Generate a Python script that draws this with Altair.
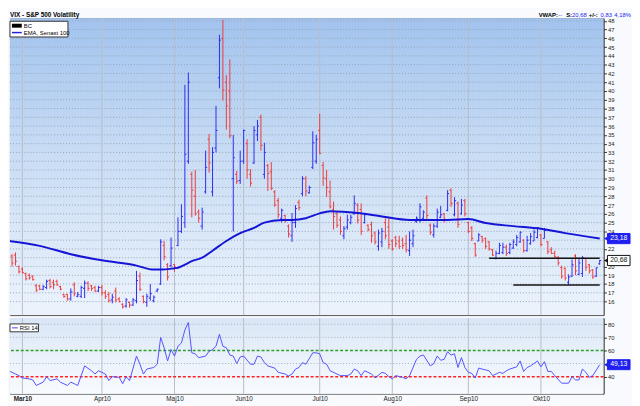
import altair as alt
import pandas as pd

# ---------------- data ----------------
first_day = -3  # trading-day index, 0 = 1 Mar 2010
opens = [21.2, 21.3, 20.0, 19.7, 19.2, 19.0, 18.9, 17.8, 17.8, 17.4,
         17.6, 18.4, 18.2, 18.3, 17.7, 16.8, 16.8, 16.3, 17.9, 16.6,
         16.6, 17.5, 18.1, 17.8, 17.6, 17.2, 17.6, 17.0, 16.8, 16.2,
         17.2, 16.3, 15.7, 15.5, 15.9, 15.6, 16.1, 18.9, 16.6, 15.9,
         16.4, 16.1, 17.2, 18.0, 22.4, 20.2, 20.1, 20.2, 22.4, 24.0,
         25.0, 32.0, 30.5, 28.0, 26.2, 24.6, 28.5, 34.5, 28.5, 33.5,
         41.5, 46.0, 41.0, 40.0, 30.0, 30.5, 29.8, 32.0, 34.0, 30.5,
         31.8, 35.0, 37.0, 30.5, 31.5, 30.8, 28.5, 27.5, 25.5, 25.8,
         24.6, 23.5, 25.0, 27.3, 28.3, 30.0, 28.4, 31.3, 32.0, 35.5,
         31.5, 30.0, 28.5, 26.5, 26.0, 25.3, 23.5, 24.5, 25.0, 26.0,
         27.0, 26.5, 25.0, 24.7, 24.8, 23.8, 22.3, 22.8, 25.0, 24.5,
         22.9, 23.3, 22.9, 23.0, 22.6, 21.8, 22.6, 25.1, 25.3, 25.5,
         27.8, 24.7, 23.6, 24.6, 25.6, 26.0, 26.4, 28.7, 25.9, 27.2,
         26.0, 27.5, 25.0, 24.4, 22.6, 22.9, 23.4, 23.2, 22.8, 21.9,
         20.9, 21.5, 21.6, 22.2, 21.6, 22.1, 22.5, 22.8, 23.0, 21.8,
         22.6, 22.9, 23.3, 23.6, 23.2, 22.8, 21.9, 21.5, 21.0, 19.9,
         19.8, 18.2, 18.9, 21.2, 19.1, 19.2, 20.9, 20.2, 19.6, 18.9,
         20.3]
highs = [21.4, 21.6, 20.1, 19.9, 19.3, 19.2, 19.0, 18.0, 17.9, 17.9,
         18.5, 18.6, 18.5, 18.5, 17.8, 16.9, 16.9, 17.5, 18.2, 17.1,
         17.8, 18.4, 18.3, 17.9, 17.8, 17.8, 17.9, 17.3, 17.1, 16.9,
         17.6, 16.5, 15.8, 16.4, 16.0, 16.4, 19.5, 19.3, 16.7, 16.9,
         18.0, 16.7, 17.5, 23.1, 22.9, 20.4, 23.3, 20.3, 25.6, 27.1,
         40.7, 42.1, 30.8, 31.0, 26.5, 26.7, 33.2, 35.1, 33.6, 38.3,
         46.4, 48.1, 41.8, 43.6, 35.0, 30.9, 33.2, 35.6, 34.5, 31.1,
         36.0, 36.7, 37.3, 34.1, 31.7, 31.9, 28.7, 27.8, 26.6, 25.9,
         24.8, 26.1, 27.0, 27.6, 30.3, 30.3, 29.2, 35.4, 35.0, 37.4,
         31.9, 31.0, 29.8, 27.4, 26.3, 25.7, 24.6, 25.9, 25.9, 28.1,
         27.2, 27.2, 26.1, 24.8, 25.1, 24.0, 24.2, 24.4, 25.5, 25.5,
         23.1, 23.5, 23.5, 23.3, 23.6, 24.0, 24.2, 25.7, 27.2, 26.4,
         28.1, 24.9, 24.9, 26.6, 26.9, 26.1, 28.7, 28.9, 27.9, 27.4,
         27.7, 27.7, 25.1, 24.6, 22.7, 23.8, 23.5, 23.3, 22.9, 22.0,
         21.8, 22.7, 22.7, 22.5, 22.7, 23.1, 23.6, 24.0, 23.1, 23.5,
         23.8, 24.2, 24.5, 23.7, 24.4, 22.9, 22.2, 21.8, 21.2, 20.1,
         19.9, 19.1, 20.8, 21.4, 21.0, 21.2, 21.0, 20.3, 19.7, 19.9,
         20.75]
lows = [20.0, 20.1, 19.2, 19.2, 18.4, 18.5, 18.4, 17.1, 17.3, 17.3,
        17.4, 17.5, 17.4, 17.8, 17.3, 16.4, 16.1, 16.1, 16.6, 16.5,
        16.4, 16.4, 17.2, 17.2, 17.1, 17.1, 16.7, 16.3, 15.9, 15.8,
        15.9, 15.9, 15.2, 15.3, 15.3, 15.5, 15.8, 17.2, 15.8, 15.4,
        16.1, 15.9, 17.1, 17.9, 20.7, 18.4, 19.9, 19.4, 22.3, 23.8,
        24.4, 31.7, 25.6, 25.8, 25.0, 24.2, 28.3, 30.7, 28.0, 33.0,
        40.3, 38.9, 35.6, 34.6, 24.0, 29.4, 29.4, 31.7, 30.0, 29.1,
        31.7, 34.3, 33.2, 30.0, 28.6, 28.7, 26.8, 25.5, 25.0, 25.0,
        23.3, 22.8, 24.4, 26.4, 28.0, 28.0, 28.3, 31.1, 31.7, 32.8,
        29.2, 27.9, 26.6, 24.2, 24.4, 23.6, 23.1, 24.2, 24.8, 25.9,
        24.9, 23.6, 24.9, 24.0, 22.7, 22.5, 21.8, 22.2, 23.1, 22.0,
        21.8, 22.2, 22.0, 22.0, 21.6, 21.2, 22.2, 25.0, 25.0, 25.3,
        25.3, 23.6, 23.3, 24.4, 25.5, 25.0, 26.3, 26.8, 25.7, 24.4,
        25.9, 25.7, 23.8, 22.9, 21.1, 22.9, 22.7, 22.0, 21.8, 21.2,
        20.8, 21.4, 21.4, 21.2, 21.4, 22.0, 22.3, 22.7, 21.6, 21.7,
        22.5, 22.9, 23.2, 22.3, 23.2, 21.4, 21.4, 21.0, 20.1, 18.6,
        18.4, 17.9, 18.8, 19.0, 19.0, 18.8, 19.5, 19.2, 18.6, 18.8,
        20.2]
closes = [20.4, 20.6, 19.4, 19.3, 18.6, 18.7, 18.5, 17.3, 17.4, 17.7,
          18.3, 17.7, 17.9, 17.9, 17.4, 16.6, 16.3, 17.1, 16.9, 16.8,
          17.6, 18.1, 17.5, 17.5, 17.2, 17.6, 17.0, 16.6, 16.1, 16.5,
          16.2, 16.0, 15.4, 16.2, 15.6, 16.2, 18.4, 17.4, 16.0, 16.6,
          16.9, 16.5, 17.4, 22.8, 21.1, 18.8, 22.1, 19.9, 24.0, 25.7,
          32.8, 41.0, 28.7, 26.0, 25.5, 26.2, 31.3, 31.8, 33.0, 35.5,
          45.8, 40.1, 38.3, 34.9, 32.4, 29.7, 32.0, 35.5, 31.0, 29.5,
          35.5, 36.0, 33.8, 33.0, 30.6, 28.9, 27.0, 25.9, 26.4, 25.2,
          23.7, 25.0, 26.6, 26.7, 30.0, 28.6, 29.0, 34.1, 34.5, 32.9,
          30.1, 29.0, 26.8, 25.7, 24.7, 24.0, 24.3, 25.3, 25.6, 27.2,
          25.3, 24.0, 25.9, 24.2, 23.5, 22.8, 23.8, 24.0, 23.5, 22.5,
          22.0, 22.6, 22.3, 22.4, 21.9, 23.0, 23.5, 25.5, 26.8, 26.2,
          25.8, 23.9, 24.6, 26.2, 25.9, 25.4, 28.3, 27.2, 27.5, 24.8,
          27.0, 26.0, 24.0, 23.2, 21.3, 23.6, 23.0, 22.3, 22.0, 21.3,
          21.5, 22.4, 22.2, 21.5, 22.5, 22.8, 23.3, 23.9, 21.8, 23.0,
          23.4, 23.9, 24.4, 22.5, 24.1, 21.7, 21.5, 21.1, 20.4, 18.9,
          18.7, 18.8, 20.2, 19.5, 20.4, 21.0, 19.9, 19.5, 18.8, 19.85,
          20.68]

ema_day = [-4, 5, 14, 23, 33, 38, 40, 44, 45, 47, 49, 52, 55, 59, 63, 67, 70,
           75, 78, 82, 86, 89, 97, 104, 112, 123, 129, 134, 142, 150, 157, 167]
ema_val = [22.9, 22.35, 21.4, 20.7, 20.1, 19.65, 19.65, 19.8, 19.85, 20.2, 20.6,
           21.0, 21.8, 22.9, 23.8, 24.4, 25.0, 25.3, 25.3, 25.5, 26.05, 26.3,
           26.1, 25.7, 25.3, 25.3, 25.4, 24.95, 24.6, 24.3, 23.8, 23.18]

rsi_day = [-4, -2, -1, 0, 2, 3, 4, 6, 7, 8, 10, 11, 13, 14, 15, 16, 17, 18, 20,
           21, 22, 24, 25, 26, 28, 29, 30, 31, 33, 34, 35, 36, 38, 39, 40, 41,
           42, 43, 44, 45, 46, 47, 48, 49, 50, 51, 53, 54, 55, 56, 57, 58, 59,
           60, 61, 62, 63, 64, 66, 67, 68, 69, 70, 71, 73, 74, 76, 77, 78, 79,
           80, 81, 82, 84, 85, 86, 87, 88, 89, 91, 92, 94, 95, 96, 97, 98, 99,
           101, 102, 104, 105, 106, 107, 108, 110, 111, 112, 114, 115, 116, 118,
           119, 120, 121, 122, 123, 124, 125, 126, 127, 128, 129, 130, 131, 132,
           133, 135, 136, 137, 138, 139, 140, 141, 143, 144, 145, 146, 147, 149,
           150, 151, 152, 153, 154, 156, 158, 159, 160, 161, 162, 163, 164, 165,
           167]
rsi_val = [44.5, 42, 40.8, 39, 38.3, 37.5, 33.3, 35.8, 40, 37, 38.3, 35.8, 33.3,
           35.8, 34.6, 33.3, 40.8, 48.2, 44.5, 42, 44.5, 42, 37, 40, 39.5, 34.6,
           40, 37, 55.7, 49.5, 42, 45.8, 47, 49.5, 69.9, 62, 52, 60.7, 55.7,
           63.2, 65.7, 75.6, 81.3, 58.2, 57.4, 54.5, 55.7, 59.4, 60.7, 63.2,
           72.4, 63.2, 62, 56.5, 55.7, 50, 55, 55.7, 49.5, 49.5, 55.7, 55, 50.7,
           48.2, 46.5, 43.3, 42, 40.5, 42, 45.8, 47, 50.7, 49.5, 58.2, 58.2,
           57.4, 50.7, 49.5, 44.5, 42, 40.8, 40.8, 42, 45.8, 44.5, 40.8, 44.5,
           42, 39, 43.3, 42.5, 40, 38.3, 40.8, 39.5, 38.3, 40.8, 53.2, 55.7,
           56.5, 48.2, 50, 55.7, 52.5, 53.2, 59, 56.5, 57.4, 47, 54.5, 47, 43.3,
           42.5, 39, 46.5, 45.8, 44.5, 40.8, 42, 43.3, 42.5, 44.5, 45.8, 47.5,
           52, 44, 47, 48.2, 52, 47.5, 51.5, 44, 44, 40.8, 35, 35, 40, 37.5,
           37.5, 45.8, 43.3, 39.5, 40.8, 49.13]

month_idx = [0, 23, 44, 64, 86, 107, 129, 150]
month_lab = ["Mar10", "Apr10", "Maj10", "Jun10", "Jul10", "Aug10", "Sep10", "Okt10"]
price_grid = list(range(16, 49))
price_labels = [p for p in range(16, 49) if p not in (21, 23)]  # 21, 23 hidden under boxes
rsi_labels = [40, 60, 70, 80]                                   # 50 hidden under box
rsi_grid = [50, 70, 80]
sup_start = [135, 142]
sup_end = [167, 167]
sup_level = [20.95, 17.9]
last_close = 20.68
last_ema = 23.18
last_rsi = 49.13

# ---------------- chart ----------------
days = list(range(first_day, first_day + len(opens)))
df = pd.DataFrame({"d": days, "o": opens, "h": highs, "l": lows, "c": closes})
df["dir"] = ["up" if c >= o else "down" for o, c in zip(opens, closes)]
ema_df = pd.DataFrame({"d": ema_day, "v": ema_val})
rsi_df = pd.DataFrame({"d": rsi_day, "v": rsi_val})
sup_df = pd.DataFrame({"a": sup_start, "b": sup_end, "y": sup_level})
one = pd.DataFrame({"k": [0]})

W, H, H2 = 604, 302, 77
FONT = "Liberation Sans"
UP, DOWN = "#2c2cf2", "#ee3a3a"
X = alt.Scale(domain=[-3.6, 168.1], nice=False, zero=False)
YP = alt.Scale(domain=[14.46, 48.28], nice=False, zero=False)
YR = alt.Scale(domain=[27.0, 84.7], nice=False, zero=False)

axis_style = dict(orient="right", title=None, labelFontSize=6, labelFont=FONT,
                  labelColor="#222", tickSize=3, tickColor="#333", domainColor="#333",
                  labelPadding=1, grid=False, labelOverlap=False)
AXP = alt.Axis(values=price_labels, format="d", **axis_style)
AXR = alt.Axis(values=rsi_labels, format="d", **axis_style)
lab_expr = ("[" + ",".join(f"'{m}'" for m in month_lab) + "][indexof(["
            + ",".join(str(i) for i in month_idx) + "], datum.value)]")
AXX = alt.Axis(values=month_idx, labelExpr=lab_expr, title=None, domain=False, ticks=False,
               grid=False, labelFontSize=6.5, labelFont=FONT, labelColor="#222", labelPadding=2,
               labelFontWeight={"condition": {"test": "datum.value == 0", "value": "bold"},
                                "value": "normal"})


def grad(stops):
    return {"gradient": "linear", "x1": 0, "y1": 0, "x2": 0, "y2": 1,
            "stops": [{"offset": o, "color": c} for o, c in stops]}


def label(txt, x, y, color="#000", size=6, weight="normal", align="left"):
    return alt.Chart(one).mark_text(text=txt, color=color, fontSize=size, fontWeight=weight,
                                    align=align, baseline="middle", font=FONT).encode(
        x=alt.value(x), y=alt.value(y))


def deco_rect(x1, x2, y1, y2, fill, stroke=None):
    kw = {"fill": fill}
    if stroke:
        kw.update(stroke=stroke, strokeWidth=1)
    return alt.Chart(one).mark_rect(**kw).encode(
        x=alt.value(x1), x2=alt.value(x2), y=alt.value(y1), y2=alt.value(y2))


def deco_rule(x1, x2, y, color, width):
    return alt.Chart(one).mark_rule(color=color, strokeWidth=width).encode(
        x=alt.value(x1), x2=alt.value(x2), y=alt.value(y))


def fmt(v):
    return f"{v:.2f}".replace(".", ",")


def value_box(val, scale, axis, half, fill, stroke, tcolor):
    base = alt.Chart(pd.DataFrame({"v": [val]})).transform_calculate(
        lo=f"datum.v - {half}", hi=f"datum.v + {half}")
    rect = base.mark_rect(fill=fill, stroke=stroke, strokeWidth=1).encode(
        x=alt.value(W + 4), x2=alt.value(W + 27),
        y=alt.Y("lo:Q", scale=scale, axis=axis), y2="hi:Q")
    tip = base.mark_point(shape="triangle-left", filled=True, size=22, color=stroke, opacity=1).encode(
        x=alt.value(W + 2.5), y=alt.Y("v:Q", scale=scale, axis=axis))
    txt = base.mark_text(text=fmt(val), color=tcolor, fontSize=7, font=FONT, dy=-0.6,
                         align="center", baseline="middle").encode(
        x=alt.value(W + 15.5), y=alt.Y("v:Q", scale=scale, axis=axis))
    return [rect, tip, txt]


# ---- main panel ----
bg = alt.Chart(one).mark_rect(fill=grad([(0, "#a2c3ee"), (0.45, "#c8dcf4"), (1, "#ecf3fc")])).encode(
    x=alt.value(0), x2=alt.value(W), y=alt.value(0), y2=alt.value(H))
hgrid = alt.Chart(pd.DataFrame({"p": price_grid})).mark_rule(
    color="#95a3b6", strokeDash=[1, 2], strokeWidth=1).encode(y=alt.Y("p:Q", scale=YP, axis=AXP))
vgrid = alt.Chart(pd.DataFrame({"m": month_idx})).mark_rule(color="#b9bec6", strokeWidth=1).encode(
    x=alt.X("m:Q", scale=X, axis=None))

color_enc = alt.Color("dir:N", scale=alt.Scale(domain=["up", "down"], range=[UP, DOWN]), legend=None)
hl = alt.Chart(df).mark_rule(strokeWidth=1).encode(
    x=alt.X("d:Q", scale=X, axis=None),
    y=alt.Y("l:Q", scale=YP, axis=AXP), y2="h:Q", color=color_enc)
otick = alt.Chart(df).transform_calculate(xo="datum.d - 0.45").mark_rule(strokeWidth=1).encode(
    x=alt.X("xo:Q", scale=X, axis=None), x2="d:Q",
    y=alt.Y("o:Q", scale=YP, axis=AXP), color=color_enc)
ctick = alt.Chart(df).transform_calculate(xc="datum.d + 0.45").mark_rule(strokeWidth=1).encode(
    x=alt.X("d:Q", scale=X, axis=None), x2="xc:Q",
    y=alt.Y("c:Q", scale=YP, axis=AXP), color=color_enc)
ema = alt.Chart(ema_df).mark_line(color="#1515d6", strokeWidth=2, interpolate="monotone", clip=True).encode(
    x=alt.X("d:Q", scale=X, axis=None), y=alt.Y("v:Q", scale=YP, axis=AXP))
sup = alt.Chart(sup_df).mark_rule(color="#151515", strokeWidth=1.5).encode(
    x=alt.X("a:Q", scale=X, axis=None), x2="b:Q", y=alt.Y("y:Q", scale=YP, axis=AXP))

main_layers = [bg, hgrid, vgrid, hl, otick, ctick, ema, sup]
main_layers += value_box(last_ema, YP, AXP, 0.58, "#1f1ff0", "#1f1ff0", "white")
main_layers += value_box(last_close, YP, AXP, 0.58, "white", "#111111", "#111111")
# legend box
main_layers += [deco_rect(0, 59, 3, 19, "white", "#333333"),
                deco_rect(2, 12, 5.5, 9.5, "#000000"),
                label("BC", 14, 7.7),
                deco_rule(2, 12, 14.5, "#2020e0", 1.5),
                label("EMA, Senast 100", 14, 14.7)]
# header texts
main_layers += [label("VIX - S&P 500 Volatility", 0, -3.5, weight="bold", size=6.5),
                label("VWAP:", 538, -3.5, weight="bold"),
                label("--", 558, -3.5, color="#1f1ff0"),
                label("S:", 566, -3.5, weight="bold"),
                label("20,68", 572, -3.5, color="#1f1ff0"),
                label("+/-:", 589, -3.5, weight="bold"),
                label("0,83", 601, -3.5, color="#1f1ff0"),
                label("4,18%", 615, -3.5, color="#1f1ff0")]
main = alt.layer(*main_layers).properties(width=W, height=H)

# ---- RSI panel ----
rbg = alt.Chart(one).mark_rect(fill=grad([(0, "#d9e6f6"), (0.5, "#eaf1fa"), (1, "#f8fbfe")])).encode(
    x=alt.value(0), x2=alt.value(W), y=alt.value(0), y2=alt.value(H2))
rgrid = alt.Chart(pd.DataFrame({"p": rsi_grid})).mark_rule(
    color="#a3adb9", strokeDash=[1, 2], strokeWidth=1).encode(y=alt.Y("p:Q", scale=YR, axis=AXR))
rvgrid = alt.Chart(pd.DataFrame({"m": month_idx})).mark_rule(color="#b9bec6", strokeWidth=1).encode(
    x=alt.X("m:Q", scale=X, axis=AXX))
r60 = alt.Chart(pd.DataFrame({"p": [60]})).mark_rule(
    color="#2f9e2f", strokeDash=[3, 2], strokeWidth=1.5).encode(y=alt.Y("p:Q", scale=YR, axis=AXR))
r40 = alt.Chart(pd.DataFrame({"p": [40]})).mark_rule(
    color="#ff2020", strokeDash=[3, 2], strokeWidth=1.5).encode(y=alt.Y("p:Q", scale=YR, axis=AXR))
rline = alt.Chart(rsi_df).mark_line(color="#5252ff", strokeWidth=1, clip=True).encode(
    x=alt.X("d:Q", scale=X, axis=AXX), y=alt.Y("v:Q", scale=YR, axis=AXR))
rsi_layers = [rbg, rgrid, rvgrid, r60, r40, rline]
rsi_layers += value_box(last_rsi, YR, AXR, 3.8, "#1f1ff0", "#1f1ff0", "white")
rsi_layers += [deco_rect(0, 29, 6, 14, "white", "#333333"),
               deco_rule(2, 8, 10, "#4040ff", 1),
               label("RSI 14", 10, 10.2)]
rsi = alt.layer(*rsi_layers).properties(width=W, height=H2)

chart = alt.vconcat(main, rsi, spacing=1).properties(padding=0).configure(
    background="#f8fafd", font=FONT).configure_view(stroke="#555555", strokeWidth=1)

chart.save("out.html", embed_options={"renderer": "svg", "actions": False})
